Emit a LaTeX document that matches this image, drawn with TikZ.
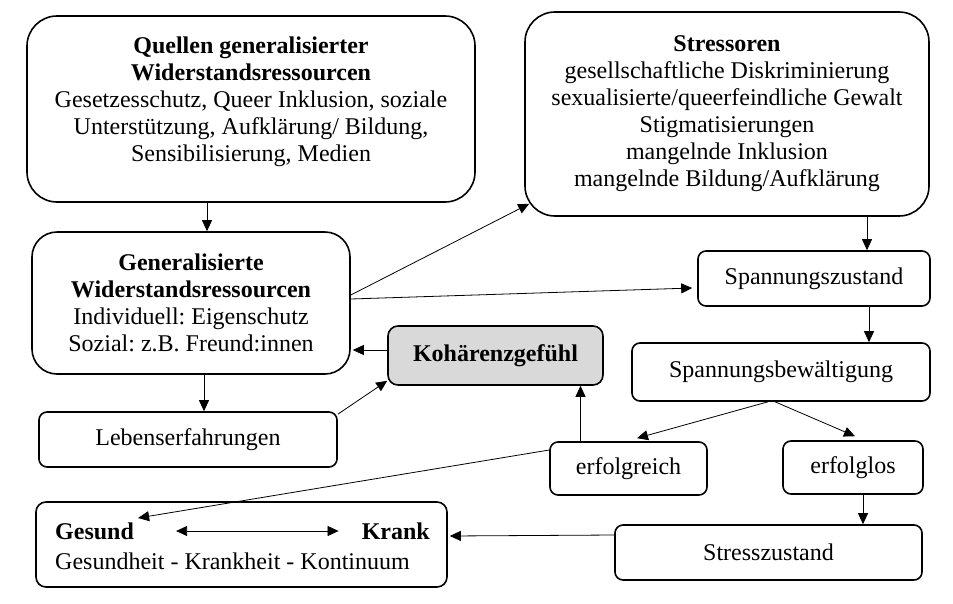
\documentclass[tikz,border=0pt]{standalone}
\usepackage{fontspec}
\setmainfont{Liberation Serif}
\usetikzlibrary{arrows.meta}
\frenchspacing
\begin{document}
\begin{tikzpicture}[x=1pt,y=-1pt,
  box/.style={draw,line width=1.6pt,inner sep=0pt,align=center,font=\fontsize{24}{27}\selectfont},
  txt/.style={inner sep=0pt,align=center,font=\fontsize{24}{27}\selectfont},
  arr/.style={line width=0.8pt,-{Triangle[length=11pt,width=10pt]}},
  darr/.style={line width=0.8pt,{Triangle[length=11pt,width=10pt]}-{Triangle[length=11pt,width=10pt]}}]
\useasboundingbox (0,0) rectangle (953,603);
% boxes
\node[box,rounded corners=30pt,minimum width=448pt,minimum height=186pt] (q) at (251,109) {};
\node[txt] (qt) at (251,102) {\textbf{Quellen generalisierter}\\\textbf{Widerstandsressourcen}\\Gesetzesschutz, Queer Inklusion, soziale\\Unterstützung, Aufklärung/ Bildung,\\Sensibilisierung, Medien};
\node[box,rounded corners=30pt,minimum width=404pt,minimum height=204pt] (s) at (727,114) {\textbf{Stressoren}\\gesellschaftliche Diskriminierung\\sexualisierte/queerfeindliche Gewalt\\Stigmatisierungen\\mangelnde Inklusion\\mangelnde Bildung/Aufklärung};
\node[box,rounded corners=25pt,minimum width=318pt,minimum height=142pt] (g) at (191,303) {\textbf{Generalisierte}\\\textbf{Widerstandsressourcen}\\Individuell: Eigenschutz\\Sozial: z.B. Freund:innen};
\node[box,rounded corners=10pt,fill=black!15,minimum width=215pt,minimum height=59pt] (k) at (495.5,355.5) {\textbf{Kohärenzgefühl}};
\node[box,rounded corners=8pt,minimum width=298pt,minimum height=55pt] (l) at (188,439.5) {Lebenserfahrungen};
\node[box,rounded corners=8pt,minimum width=232pt,minimum height=55pt] (sz) at (814,278.5) {Spannungszustand};
\node[box,rounded corners=8pt,minimum width=298pt,minimum height=58pt] (sb) at (781,372) {Spannungsbewältigung};
\node[box,rounded corners=8pt,minimum width=157pt,minimum height=53pt] (eg) at (628.5,468.5) {erfolgreich};
\node[box,rounded corners=8pt,minimum width=140pt,minimum height=53pt] (el) at (853,467.5) {erfolglos};
\node[box,rounded corners=10pt,minimum width=411pt,minimum height=85pt] (gk) at (241.5,544.5) {};
\node[box,rounded corners=8pt,minimum width=307pt,minimum height=55pt] (st) at (768.5,552.5) {Stresszustand};
% inside health box
\node[txt,anchor=west] (gesund) at (55,531) {\textbf{Gesund}};
\node[txt,anchor=east] (krank) at (430,531) {\textbf{Krank}};
\node[txt,anchor=west] (kont) at (55,561) {Gesundheit - Krankheit - Kontinuum};
\draw[darr] ([xshift=42pt]gesund.east) -- ([xshift=-23pt]krank.west);
% connectors
\draw[arr] ([xshift=-44pt]q.south) -- ([xshift=-44pt]q.south |- g.north);
\draw[arr] ([xshift=140pt]s.south) -- ([xshift=140pt]s.south |- sz.north);
\draw[arr] ([yshift=8pt]g.east) -- ([xshift=5pt,yshift=13pt]s.south west);
\draw[arr] ([yshift=4pt]g.east) -- ([xshift=-5pt,yshift=-9.5pt]sz.west);
\draw[arr] ([yshift=5.5pt]k.west) -- ([xshift=2pt,yshift=5.5pt]k.west -| g.east);
\draw[arr] ([xshift=13pt]g.south) -- ([xshift=13pt]g.south |- l.north);
\draw[arr] ([yshift=-3pt]l.north east) -- ([yshift=5pt]k.south west);
\draw[arr] ([xshift=55pt]sz.south) -- ([xshift=55pt]sz.south |- sb.north);
\draw[arr] ([xshift=-13pt]sb.south) -- ([xshift=8.5pt,yshift=3pt]eg.north);
\draw[arr] ([xshift=-6pt]sb.south) -- ([xshift=2pt,yshift=4pt]el.north);
\draw[arr] ([xshift=-48pt]eg.north) -- ([xshift=-48pt]eg.north |- k.south);
\draw[arr] ([yshift=18.5pt]eg.west) -- ([xshift=4pt,yshift=13pt]gesund.east);
\draw[arr] ([xshift=10pt]el.south) -- ([xshift=10pt]el.south |- st.north);
\draw[arr] ([yshift=17.5pt]st.west) -- ([xshift=2pt,yshift=8.5pt]gk.east);
\end{tikzpicture}
\end{document}
